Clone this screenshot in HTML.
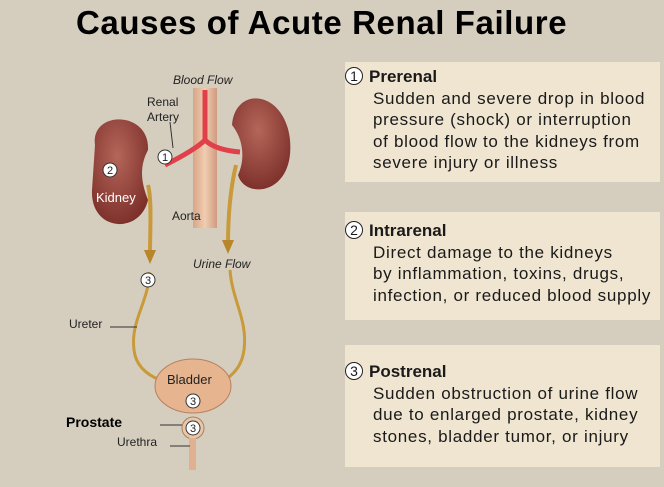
<!DOCTYPE html>
<html><head><meta charset="utf-8"><style>
body{margin:0;width:664px;height:487px;background:#d5cebf;font-family:"Liberation Sans",sans-serif;overflow:hidden;position:relative}
h1{position:absolute;left:76px;top:4px;margin:0;font-size:33px;font-weight:bold;color:#000;letter-spacing:0.6px;white-space:nowrap}
.box{position:absolute;left:345px;width:315px;background:#efe5d1;color:#1a1a1a;font-size:17px;line-height:21.5px;white-space:nowrap;letter-spacing:0.7px}
.box b{font-weight:bold;letter-spacing:0}
.n{display:inline-block;width:18px;height:18px;border:1.5px solid #222;border-radius:50%;text-align:center;line-height:16px;font-size:14px;margin-right:6px;box-sizing:border-box;vertical-align:1px;background:#fff;letter-spacing:0}
.box div{padding-left:28px}
</style></head><body>
<h1>Causes of Acute Renal Failure</h1>
<svg width="664" height="487" style="position:absolute;left:0;top:0" font-family="Liberation Sans, sans-serif">
<defs>
<radialGradient id="k" cx="0.45" cy="0.35" r="0.7"><stop offset="0" stop-color="#b5665a"/><stop offset="1" stop-color="#7a2e28"/></radialGradient>
<linearGradient id="ao" x1="0" x2="1"><stop offset="0" stop-color="#d8a588"/><stop offset="0.5" stop-color="#f0cdb0"/><stop offset="1" stop-color="#d09a80"/></linearGradient>
</defs>
<rect x="193" y="88" width="24" height="140" fill="url(#ao)"/>
<path d="M205 90 V140 M205 140 Q195 150 165 165 M205 140 Q215 150 240 152" stroke="#e0404a" stroke-width="5" fill="none"/>
<path d="M95 145 C90 110 150 110 148 150 C140 165 140 180 148 200 C140 235 90 232 92 190 Z" fill="url(#k)"/>
<path d="M290 140 C295 195 245 200 238 175 C245 160 244 140 232 125 C235 85 285 90 290 140 Z" fill="url(#k)"/>
<path d="M148 185 C152 200 150 230 150 255" stroke="#c99a3a" stroke-width="4" fill="none"/>
<path d="M144 250 L150 264 L156 250 Z" fill="#b8862a"/>
<path d="M236 165 C230 190 228 220 228 245" stroke="#c99a3a" stroke-width="4" fill="none"/>
<path d="M222 240 L228 254 L234 240 Z" fill="#b8862a"/>
<path d="M149 272 C150 300 130 320 134 350 C136 368 150 376 160 380" stroke="#c99a3a" stroke-width="3" fill="none"/>
<path d="M230 270 C232 300 248 320 244 350 C242 365 235 372 228 378" stroke="#c99a3a" stroke-width="3" fill="none"/>
<ellipse cx="193" cy="386" rx="38" ry="27" fill="#e6b48e" stroke="#b88060"/>
<circle cx="193" cy="428" r="11" fill="#e8c8a8" stroke="#a88060"/>
<rect x="189" y="438" width="7" height="32" fill="#e0b090"/>
<g font-size="12" fill="#222">
<text x="173" y="84" font-style="italic">Blood Flow</text>
<text x="147" y="106">Renal</text><text x="147" y="121">Artery</text>
<text x="172" y="220">Aorta</text>
<text x="193" y="268" font-style="italic">Urine Flow</text>
<text x="69" y="328">Ureter</text>
<text x="167" y="384" font-size="13">Bladder</text>
<text x="117" y="446">Urethra</text>
<text x="66" y="427" font-size="14" font-weight="bold" fill="#000">Prostate</text>
<text x="96" y="202" fill="#fff" font-size="13">Kidney</text>
</g>
<g stroke="#333" stroke-width="1"><line x1="110" y1="327" x2="137" y2="327"/><line x1="160" y1="425" x2="182" y2="425"/><line x1="170" y1="446" x2="190" y2="446"/><line x1="170" y1="122" x2="173" y2="148"/></g>
<g font-size="11" text-anchor="middle" fill="#222">
<circle cx="165" cy="157" r="7" fill="#fff" stroke="#333"/><text x="165" y="161">1</text>
<circle cx="110" cy="170" r="7" fill="#fff" stroke="#333"/><text x="110" y="174">2</text>
<circle cx="148" cy="280" r="7" fill="#fff" stroke="#333"/><text x="148" y="284">3</text>
<circle cx="193" cy="401" r="7" fill="#fff" stroke="#333"/><text x="193" y="405">3</text>
<circle cx="193" cy="428" r="7" fill="#fff" stroke="#333"/><text x="193" y="432">3</text>
</g>
</svg>
<div class="box" style="top:62px;height:116px;padding-top:4px"><span class="n">1</span><b>Prerenal</b><div>Sudden and severe drop in blood<br>pressure (shock) or interruption<br>of blood flow to the kidneys from<br>severe injury or illness</div></div>
<div class="box" style="top:212px;height:100px;padding-top:8px"><span class="n">2</span><b>Intrarenal</b><div>Direct damage to the kidneys<br>by inflammation, toxins, drugs,<br>infection, or reduced blood supply</div></div>
<div class="box" style="top:345px;height:106px;padding-top:16px"><span class="n">3</span><b>Postrenal</b><div>Sudden obstruction of urine flow<br>due to enlarged prostate, kidney<br>stones, bladder tumor, or injury</div></div>
</body></html>
